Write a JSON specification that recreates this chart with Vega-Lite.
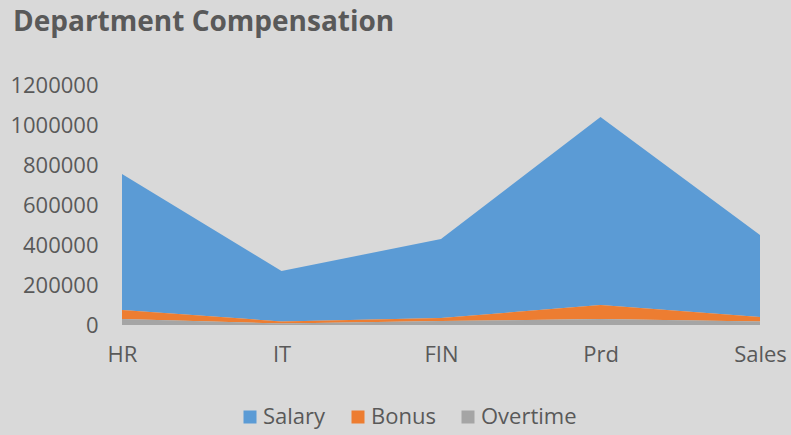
{
  "$schema": "https://vega.github.io/schema/vega-lite/v6.json",
  "width": 638,
  "height": 240,
  "autosize": "none",
  "padding": {"left": 122, "top": 85, "right": 31, "bottom": 110},
  "background": "#d9d9d9",
  "title": {
    "text": "Department Compensation",
    "anchor": "start",
    "frame": "group",
    "dx": -109,
    "offset": 37,
    "font": "Open Sans",
    "fontSize": 28,
    "fontWeight": "bold",
    "color": "#595959"
  },
  "config": {
    "view": {"stroke": null},
    "font": "Open Sans"
  },
  "data": {
    "values": [
      {"dept": "HR", "type": "Salary", "value": 680000, "layer": 3},
      {"dept": "HR", "type": "Bonus", "value": 45000, "layer": 2},
      {"dept": "HR", "type": "Overtime", "value": 30000, "layer": 1},
      {"dept": "IT", "type": "Salary", "value": 252000, "layer": 3},
      {"dept": "IT", "type": "Bonus", "value": 10000, "layer": 2},
      {"dept": "IT", "type": "Overtime", "value": 8000, "layer": 1},
      {"dept": "FIN", "type": "Salary", "value": 395000, "layer": 3},
      {"dept": "FIN", "type": "Bonus", "value": 15000, "layer": 2},
      {"dept": "FIN", "type": "Overtime", "value": 20000, "layer": 1},
      {"dept": "Prd", "type": "Salary", "value": 940000, "layer": 3},
      {"dept": "Prd", "type": "Bonus", "value": 70000, "layer": 2},
      {"dept": "Prd", "type": "Overtime", "value": 30000, "layer": 1},
      {"dept": "Sales", "type": "Salary", "value": 410000, "layer": 3},
      {"dept": "Sales", "type": "Bonus", "value": 22000, "layer": 2},
      {"dept": "Sales", "type": "Overtime", "value": 18000, "layer": 1}
    ]
  },
  "mark": {"type": "area", "opacity": 1},
  "encoding": {
    "x": {
      "field": "dept",
      "type": "ordinal",
      "sort": ["HR", "IT", "FIN", "Prd", "Sales"],
      "scale": {"type": "point", "padding": 0},
      "axis": {
        "title": null,
        "labelAngle": 0,
        "domain": false,
        "ticks": false,
        "labelPadding": 19,
        "labelFontSize": 22,
        "labelColor": "#595959",
        "labelFont": "Open Sans"
      }
    },
    "y": {
      "field": "value",
      "type": "quantitative",
      "stack": "zero",
      "scale": {"domain": [0, 1200000], "nice": false},
      "axis": {
        "title": null,
        "values": [0, 200000, 400000, 600000, 800000, 1000000, 1200000],
        "format": "d",
        "grid": false,
        "domain": false,
        "ticks": false,
        "labelPadding": 24,
        "labelFontSize": 22,
        "labelColor": "#595959",
        "labelFont": "Open Sans"
      }
    },
    "color": {
      "field": "type",
      "type": "nominal",
      "scale": {
        "domain": ["Salary", "Bonus", "Overtime"],
        "range": ["#5b9bd5", "#ed7d31", "#a5a5a5"]
      },
      "legend": {
        "title": null,
        "orient": "none",
        "direction": "horizontal",
        "legendX": 117,
        "legendY": 321,
        "symbolType": "square",
        "symbolSize": 169,
        "symbolStrokeWidth": 0,
        "symbolOpacity": 1,
        "labelFontSize": 22,
        "labelColor": "#595959",
        "labelFont": "Open Sans",
        "labelOffset": 2,
        "columnPadding": 21
      }
    },
    "order": {"field": "layer", "type": "quantitative", "sort": "ascending"}
  }
}
